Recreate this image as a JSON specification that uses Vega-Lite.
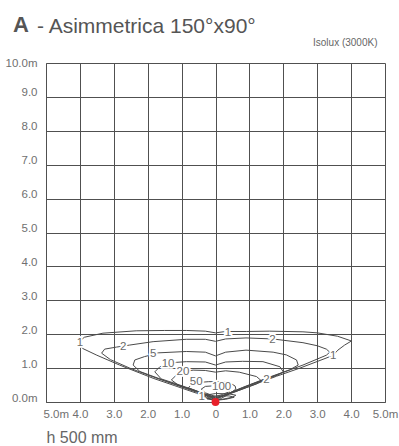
{
  "$schema": "https://vega.github.io/schema/vega-lite/v6.json",
  "width": 339,
  "height": 339,
  "autosize": {"type": "none"},
  "padding": {"left": 46, "top": 63, "right": 14, "bottom": 44},
  "background": "white",
  "config": {
    "font": "Liberation Sans",
    "view": {"stroke": null}
  },
  "title": {
    "text": "A",
    "subtitle": "- Asimmetrica 150°x90°",
    "anchor": "start",
    "frame": "group",
    "dx": -33,
    "offset": -1,
    "fontSize": 22,
    "fontWeight": "bold",
    "color": "#555555",
    "subtitleFontSize": 21,
    "subtitleFontWeight": "normal",
    "subtitleColor": "#555555",
    "subtitlePadding": -21,
    "encode": {"subtitle": {"update": {"dx": {"value": -9}}}}
  },
  "datasets": {
    "contours": [
      {"c": 1, "i": 0, "x": 0.0, "y": 0.05},
      {"c": 1, "i": 1, "x": -0.3, "y": 0.14},
      {"c": 1, "i": 2, "x": -0.56, "y": 0.26},
      {"c": 1, "i": 3, "x": -1.2, "y": 0.48},
      {"c": 1, "i": 4, "x": -1.84, "y": 0.7},
      {"c": 1, "i": 5, "x": -2.83, "y": 1.09},
      {"c": 1, "i": 6, "x": -3.5, "y": 1.38},
      {"c": 1, "i": 7, "x": -3.92, "y": 1.58},
      {"c": 1, "i": 8, "x": -4.05, "y": 1.75},
      {"c": 1, "i": 9, "x": -3.87, "y": 1.91},
      {"c": 1, "i": 10, "x": -3.32, "y": 2.03},
      {"c": 1, "i": 11, "x": -2.34, "y": 2.1},
      {"c": 1, "i": 12, "x": -1.5, "y": 2.11},
      {"c": 1, "i": 13, "x": -0.86, "y": 2.11},
      {"c": 1, "i": 14, "x": -0.3, "y": 2.09},
      {"c": 1, "i": 15, "x": 0.0, "y": 2.04},
      {"c": 1, "i": 16, "x": 0.3, "y": 2.08},
      {"c": 1, "i": 17, "x": 0.91, "y": 2.08},
      {"c": 1, "i": 18, "x": 1.6, "y": 2.09},
      {"c": 1, "i": 19, "x": 2.58, "y": 2.07},
      {"c": 1, "i": 20, "x": 3.0, "y": 2.04},
      {"c": 1, "i": 21, "x": 3.6, "y": 1.94},
      {"c": 1, "i": 22, "x": 4.01, "y": 1.8},
      {"c": 1, "i": 23, "x": 3.81, "y": 1.68},
      {"c": 1, "i": 24, "x": 3.61, "y": 1.53},
      {"c": 1, "i": 25, "x": 3.46, "y": 1.37},
      {"c": 1, "i": 26, "x": 2.49, "y": 1.0},
      {"c": 1, "i": 27, "x": 1.8, "y": 0.76},
      {"c": 1, "i": 28, "x": 1.0, "y": 0.46},
      {"c": 1, "i": 29, "x": 0.42, "y": 0.24},
      {"c": 1, "i": 30, "x": 0.15, "y": 0.1},
      {"c": 1, "i": 31, "x": 0.0, "y": 0.05},

      {"c": 2, "i": 0, "x": 0.0, "y": 0.07},
      {"c": 2, "i": 1, "x": -0.56, "y": 0.29},
      {"c": 2, "i": 2, "x": -1.84, "y": 0.74},
      {"c": 2, "i": 3, "x": -2.53, "y": 1.0},
      {"c": 2, "i": 4, "x": -3.1, "y": 1.25},
      {"c": 2, "i": 5, "x": -3.36, "y": 1.44},
      {"c": 2, "i": 6, "x": -3.27, "y": 1.56},
      {"c": 2, "i": 7, "x": -2.92, "y": 1.62},
      {"c": 2, "i": 8, "x": -2.53, "y": 1.68},
      {"c": 2, "i": 9, "x": -1.84, "y": 1.78},
      {"c": 2, "i": 10, "x": -0.86, "y": 1.85},
      {"c": 2, "i": 11, "x": -0.3, "y": 1.85},
      {"c": 2, "i": 12, "x": 0.0, "y": 1.79},
      {"c": 2, "i": 13, "x": 0.3, "y": 1.86},
      {"c": 2, "i": 14, "x": 0.9, "y": 1.89},
      {"c": 2, "i": 15, "x": 1.69, "y": 1.86},
      {"c": 2, "i": 16, "x": 2.58, "y": 1.75},
      {"c": 2, "i": 17, "x": 3.0, "y": 1.66},
      {"c": 2, "i": 18, "x": 3.27, "y": 1.56},
      {"c": 2, "i": 19, "x": 3.37, "y": 1.47},
      {"c": 2, "i": 20, "x": 3.27, "y": 1.38},
      {"c": 2, "i": 21, "x": 2.58, "y": 1.09},
      {"c": 2, "i": 22, "x": 1.8, "y": 0.8},
      {"c": 2, "i": 23, "x": 1.0, "y": 0.5},
      {"c": 2, "i": 24, "x": 0.42, "y": 0.27},
      {"c": 2, "i": 25, "x": 0.0, "y": 0.07},

      {"c": 5, "i": 0, "x": 0.0, "y": 0.09},
      {"c": 5, "i": 1, "x": -0.56, "y": 0.31},
      {"c": 5, "i": 2, "x": -1.5, "y": 0.63},
      {"c": 5, "i": 3, "x": -2.23, "y": 0.9},
      {"c": 5, "i": 4, "x": -2.43, "y": 1.09},
      {"c": 5, "i": 5, "x": -2.38, "y": 1.24},
      {"c": 5, "i": 6, "x": -2.09, "y": 1.34},
      {"c": 5, "i": 7, "x": -1.85, "y": 1.4},
      {"c": 5, "i": 8, "x": -1.69, "y": 1.45},
      {"c": 5, "i": 9, "x": -0.86, "y": 1.49},
      {"c": 5, "i": 10, "x": -0.3, "y": 1.47},
      {"c": 5, "i": 11, "x": 0.0, "y": 1.36},
      {"c": 5, "i": 12, "x": 0.3, "y": 1.47},
      {"c": 5, "i": 13, "x": 0.9, "y": 1.53},
      {"c": 5, "i": 14, "x": 1.7, "y": 1.47},
      {"c": 5, "i": 15, "x": 2.09, "y": 1.39},
      {"c": 5, "i": 16, "x": 2.39, "y": 1.24},
      {"c": 5, "i": 17, "x": 2.44, "y": 1.09},
      {"c": 5, "i": 18, "x": 2.19, "y": 0.95},
      {"c": 5, "i": 19, "x": 1.5, "y": 0.7},
      {"c": 5, "i": 20, "x": 0.8, "y": 0.43},
      {"c": 5, "i": 21, "x": 0.3, "y": 0.22},
      {"c": 5, "i": 22, "x": 0.0, "y": 0.09},

      {"c": 10, "i": 0, "x": 0.0, "y": 0.1},
      {"c": 10, "i": 1, "x": -0.56, "y": 0.33},
      {"c": 10, "i": 2, "x": -1.2, "y": 0.55},
      {"c": 10, "i": 3, "x": -1.6, "y": 0.68},
      {"c": 10, "i": 4, "x": -1.79, "y": 0.89},
      {"c": 10, "i": 5, "x": -1.64, "y": 1.04},
      {"c": 10, "i": 6, "x": -1.4, "y": 1.11},
      {"c": 10, "i": 7, "x": -1.15, "y": 1.17},
      {"c": 10, "i": 8, "x": -0.86, "y": 1.19},
      {"c": 10, "i": 9, "x": -0.3, "y": 1.18},
      {"c": 10, "i": 10, "x": 0.0, "y": 1.09},
      {"c": 10, "i": 11, "x": 0.3, "y": 1.18},
      {"c": 10, "i": 12, "x": 0.8, "y": 1.2},
      {"c": 10, "i": 13, "x": 1.4, "y": 1.19},
      {"c": 10, "i": 14, "x": 1.9, "y": 1.04},
      {"c": 10, "i": 15, "x": 2.0, "y": 0.89},
      {"c": 10, "i": 16, "x": 1.85, "y": 0.8},
      {"c": 10, "i": 17, "x": 1.2, "y": 0.56},
      {"c": 10, "i": 18, "x": 0.5, "y": 0.29},
      {"c": 10, "i": 19, "x": 0.0, "y": 0.1},

      {"c": 20, "i": 0, "x": 0.0, "y": 0.12},
      {"c": 20, "i": 1, "x": -0.5, "y": 0.3},
      {"c": 20, "i": 2, "x": -1.1, "y": 0.5},
      {"c": 20, "i": 3, "x": -1.3, "y": 0.65},
      {"c": 20, "i": 4, "x": -1.15, "y": 0.8},
      {"c": 20, "i": 5, "x": -0.96, "y": 0.89},
      {"c": 20, "i": 6, "x": -0.66, "y": 0.94},
      {"c": 20, "i": 7, "x": -0.3, "y": 0.93},
      {"c": 20, "i": 8, "x": 0.0, "y": 0.88},
      {"c": 20, "i": 9, "x": 0.3, "y": 0.92},
      {"c": 20, "i": 10, "x": 0.7, "y": 0.88},
      {"c": 20, "i": 11, "x": 1.21, "y": 0.75},
      {"c": 20, "i": 12, "x": 1.36, "y": 0.62},
      {"c": 20, "i": 13, "x": 1.2, "y": 0.53},
      {"c": 20, "i": 14, "x": 0.6, "y": 0.31},
      {"c": 20, "i": 15, "x": 0.0, "y": 0.12},

      {"c": 50, "i": 0, "x": 0.0, "y": 0.14},
      {"c": 50, "i": 1, "x": -0.5, "y": 0.3},
      {"c": 50, "i": 2, "x": -0.8, "y": 0.42},
      {"c": 50, "i": 3, "x": -0.7, "y": 0.52},
      {"c": 50, "i": 4, "x": -0.45, "y": 0.58},
      {"c": 50, "i": 5, "x": -0.2, "y": 0.6},
      {"c": 50, "i": 6, "x": 0.0, "y": 0.6},
      {"c": 50, "i": 7, "x": 0.25, "y": 0.6},
      {"c": 50, "i": 8, "x": 0.45, "y": 0.55},
      {"c": 50, "i": 9, "x": 0.58, "y": 0.47},
      {"c": 50, "i": 10, "x": 0.6, "y": 0.38},
      {"c": 50, "i": 11, "x": 0.45, "y": 0.27},
      {"c": 50, "i": 12, "x": 0.2, "y": 0.17},
      {"c": 50, "i": 13, "x": 0.0, "y": 0.14},

      {"c": 100, "i": 0, "x": 0.0, "y": 0.16},
      {"c": 100, "i": 1, "x": -0.3, "y": 0.27},
      {"c": 100, "i": 2, "x": -0.42, "y": 0.38},
      {"c": 100, "i": 3, "x": -0.3, "y": 0.46},
      {"c": 100, "i": 4, "x": 0.0, "y": 0.48},
      {"c": 100, "i": 5, "x": 0.3, "y": 0.46},
      {"c": 100, "i": 6, "x": 0.45, "y": 0.38},
      {"c": 100, "i": 7, "x": 0.4, "y": 0.3},
      {"c": 100, "i": 8, "x": 0.2, "y": 0.22},
      {"c": 100, "i": 9, "x": 0.0, "y": 0.16},

      {"c": 200, "i": 0, "x": 0.0, "y": 0.06},
      {"c": 200, "i": 1, "x": -0.3, "y": 0.12},
      {"c": 200, "i": 2, "x": -0.3, "y": 0.2},
      {"c": 200, "i": 3, "x": 0.0, "y": 0.25},
      {"c": 200, "i": 4, "x": 0.4, "y": 0.24},
      {"c": 200, "i": 5, "x": 0.6, "y": 0.2},
      {"c": 200, "i": 6, "x": 0.5, "y": 0.14},
      {"c": 200, "i": 7, "x": 0.2, "y": 0.08},
      {"c": 200, "i": 8, "x": 0.0, "y": 0.06},

      {"c": 500, "i": 0, "x": 0.0, "y": 0.05},
      {"c": 500, "i": 1, "x": -0.25, "y": 0.09},
      {"c": 500, "i": 2, "x": -0.2, "y": 0.15},
      {"c": 500, "i": 3, "x": 0.0, "y": 0.18},
      {"c": 500, "i": 4, "x": 0.4, "y": 0.18},
      {"c": 500, "i": 5, "x": 0.55, "y": 0.14},
      {"c": 500, "i": 6, "x": 0.3, "y": 0.08},
      {"c": 500, "i": 7, "x": 0.0, "y": 0.05}
    ],
    "labels": [
      {"t": "1", "x": -4.0, "y": 1.74},
      {"t": "2", "x": -2.72, "y": 1.63},
      {"t": "5", "x": -1.84, "y": 1.41},
      {"t": "10", "x": -1.4, "y": 1.12},
      {"t": "20", "x": -0.96, "y": 0.89},
      {"t": "50", "x": -0.57, "y": 0.58},
      {"t": "100", "x": 0.18, "y": 0.44},
      {"t": "1", "x": -0.41, "y": 0.15},
      {"t": "1", "x": 0.37, "y": 2.04},
      {"t": "2", "x": 1.68, "y": 1.84},
      {"t": "1", "x": 3.47, "y": 1.37},
      {"t": "2", "x": 1.5, "y": 0.66}
    ],
    "origin": [{"x": 0, "y": 0}]
  },
  "resolve": {"axis": {"x": "independent"}},
  "encoding": {
    "y": {
      "field": "y", "type": "quantitative",
      "scale": {"domain": [0, 10], "nice": false, "zero": false},
      "axis": {
        "values": [0, 1, 2, 3, 4, 5, 6, 7, 8, 9, 10],
        "labelExpr": "(datum.value == 0 || datum.value == 10) ? format(datum.value, '.1f') + 'm' : format(datum.value, '.1f')",
        "labelBaseline": {"condition": {"test": "datum.value == 10", "value": "middle"}, "value": "alphabetic"},
        "labelOffset": {"condition": {"test": "datum.value == 10", "value": 0}, "value": -1},
        "labelFontSize": 11.5,
        "labelColor": "#707070",
        "labelPadding": 9,
        "ticks": false,
        "grid": true,
        "gridColor": "#505050",
        "gridWidth": 1,
        "gridOpacity": 1,
        "domainColor": "#505050",
        "labelFlush": false,
        "labelOverlap": false,
        "title": null
      }
    }
  },
  "layer": [
    {
      "data": {"name": "contours"},
      "mark": {"type": "line", "color": "#4a4a4a", "strokeWidth": 1, "interpolate": "linear"},
      "encoding": {
        "x": {
          "field": "x", "type": "quantitative",
          "scale": {"domain": [-5, 5], "nice": false, "zero": false},
          "axis": {
            "values": [-5, -4, -3, -2, -1, 0, 1, 2, 3, 4, 5],
            "labelExpr": "datum.value == 0 ? '0' : (abs(datum.value) == 5 ? format(abs(datum.value), '.1f') + 'm' : format(abs(datum.value), '.1f'))",
            "labelAlign": {"condition": {"test": "datum.value == -5", "value": "left"}, "value": "center"},
            "labelOffset": {"condition": {"test": "datum.value == -5", "value": -3}, "value": 0},
            "labelFontSize": 11.5,
            "labelColor": "#707070",
            "labelPadding": 6,
            "ticks": false,
            "grid": true,
            "gridColor": "#505050",
            "gridWidth": 1,
            "gridOpacity": 1,
            "domainColor": "#505050",
            "labelFlush": false,
            "labelOverlap": false,
            "title": "h 500 mm",
            "titleAnchor": "start",
            "titleAlign": "left",
            "titleFontSize": 16,
            "titleFontWeight": "normal",
            "titleColor": "#666666",
            "titlePadding": 10
          }
        },
        "detail": {"field": "c", "type": "nominal"},
        "order": {"field": "i", "type": "quantitative"}
      }
    },
    {
      "data": {"name": "labels"},
      "mark": {"type": "text", "fontSize": 11.5, "stroke": "white", "strokeWidth": 3.5, "fill": "white", "align": "center", "baseline": "middle"},
      "encoding": {
        "x": {"field": "x", "type": "quantitative", "axis": null},
        "text": {"field": "t"}
      }
    },
    {
      "data": {"name": "labels"},
      "mark": {"type": "text", "fontSize": 11.5, "fill": "#6a6a6a", "align": "center", "baseline": "middle"},
      "encoding": {
        "x": {"field": "x", "type": "quantitative", "axis": null},
        "text": {"field": "t"}
      }
    },
    {
      "data": {"name": "origin"},
      "mark": {"type": "circle", "color": "#e8202a", "opacity": 1, "size": 62, "clip": false},
      "encoding": {
        "x": {
          "field": "x", "type": "quantitative",
          "axis": {
            "orient": "top",
            "labels": false,
            "ticks": false,
            "domain": false,
            "grid": false,
            "title": "Isolux (3000K)",
            "titleFontSize": 10,
            "titleFontWeight": "normal",
            "titleColor": "#666666",
            "titleAnchor": "end",
            "titleAlign": "right",
            "titleX": 331,
            "titleBaseline": "alphabetic",
            "titlePadding": 18
          }
        }
      }
    }
  ]
}
